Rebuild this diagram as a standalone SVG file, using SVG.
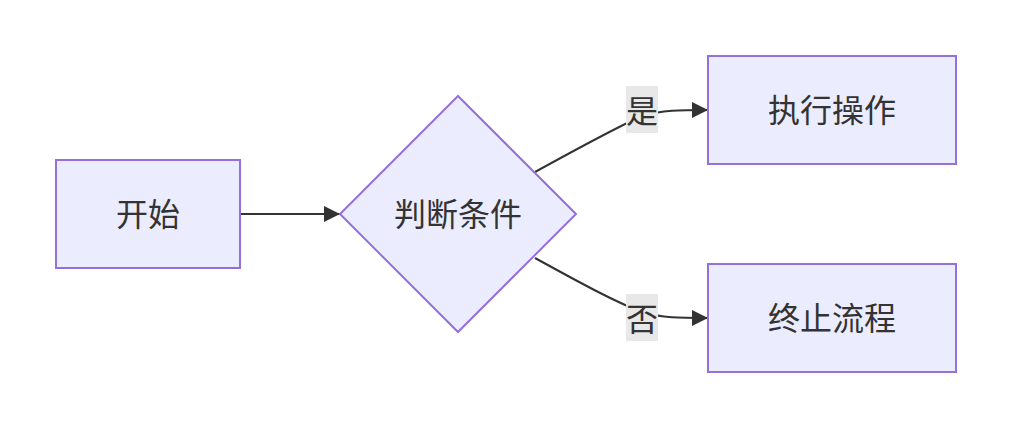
<svg xmlns="http://www.w3.org/2000/svg" width="1012" height="428" viewBox="0 0 1012 428">
<defs>
<style>
.node rect,.node polygon{fill:#ECECFF;stroke:#9370DB;stroke-width:2}
text{font-family:"Noto Sans CJK SC","Noto Sans",sans-serif;font-size:32px;fill:#333;text-anchor:middle;dominant-baseline:central}
.edge{fill:none;stroke:#333;stroke-width:2}
.lbl{fill:#E8E8E8}
</style>
<marker id="arrow" viewBox="0 0 10 10" refX="10" refY="5" markerWidth="8" markerHeight="8" markerUnits="userSpaceOnUse" orient="auto">
<path d="M0,0 L10,5 L0,10 z" fill="#333"/>
</marker>
<marker id="ah" viewBox="0 0 16 16" refX="16" refY="8" markerWidth="16" markerHeight="16" markerUnits="userSpaceOnUse" orient="auto">
<path d="M0,0 L16,8 L0,16 z" fill="#333"/>
</marker>
</defs>
<rect width="1012" height="428" fill="#fff"/>
<g id="connectors">
<path class="edge" d="M240,214 L340,214" marker-end="url(#ah)"/>
<path class="edge" d="M535,172 C575,150 615,128 642,116 C662,110 680,110 708,110" marker-end="url(#ah)"/>
<path class="edge" d="M535,258 C575,280 615,302 642,312 C662,318 680,318 708,318" marker-end="url(#ah)"/>
<g id="label-yes"><rect class="lbl" x="626" y="86" width="32" height="47"/><text x="642" y="109">是</text></g>
<g id="label-no"><rect class="lbl" x="626" y="294" width="32" height="47"/><text x="642" y="317">否</text></g>
</g>
<g id="start" class="node"><rect x="56" y="160" width="184" height="108"/><text x="148" y="212">开始</text></g>
<g id="decision" class="node"><polygon points="458,96 576,214 458,332 340,214"/><text x="458" y="212">判断条件</text></g>
<g id="action" class="node"><rect x="708" y="56" width="248" height="108"/><text x="832" y="108">执行操作</text></g>
<g id="stop" class="node"><rect x="708" y="264" width="248" height="108"/><text x="832" y="316">终止流程</text></g>
</svg>
